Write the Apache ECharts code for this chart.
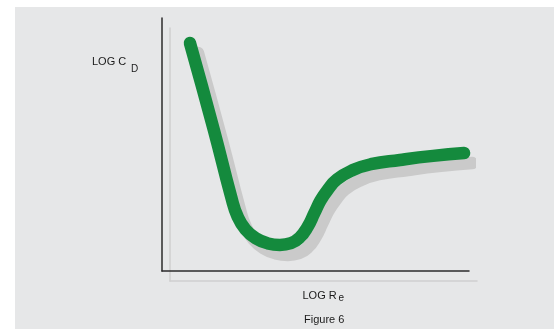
<!DOCTYPE html>
<html>
<head>
<meta charset="utf-8">
<script src="https://cdn.jsdelivr.net/npm/echarts@6/dist/echarts.min.js"></script>
<style>
html,body{margin:0;padding:0;background:#fff;}
#c{width:560px;height:329px;}
</style>
</head>
<body>
<div id="c"></div>
<script>
// Schematic drag curve (arbitrary 0-100 units on both log axes)
var logRe = [9.1, 16.9, 22.6, 24.6, 27.2, 30.6, 34.5, 38.4, 42.0, 44.9, 47.4, 49.6, 51.6, 53.8, 57.0, 62.2, 68.0, 77.5, 88.3, 98.4];
var logCd = [90.1, 55.7, 29.0, 21.6, 16.4, 12.9, 10.9, 10.3, 11.0, 13.3, 17.4, 22.8, 27.8, 31.8, 36.2, 39.9, 42.2, 43.9, 45.5, 46.6];
var xTitle = 'LOG R';
var xSub = 'e';
var yTitle = 'LOG C';
var ySub = 'D';
var caption = 'Figure 6';

var pts = logRe.map(function (x, i) { return [x, logCd[i]]; });
var chart = echarts.init(document.getElementById('c'), null, {renderer: 'canvas'});
var font = '"Liberation Sans", Arial, sans-serif';
var axisLine = {
  show: true, onZero: false,
  lineStyle: {color: '#2b2b2b', width: 1.5, shadowColor: '#cfcfcf', shadowBlur: 0, shadowOffsetX: 8, shadowOffsetY: 10}
};
chart.setOption({
  animation: false,
  backgroundColor: '#ffffff',
  graphic: [
    {type: 'rect', z: -10, shape: {x: 15, y: 7, width: 539, height: 322}, style: {fill: '#e6e7e8'}},
    {type: 'text', x: 92, y: 62, style: {text: yTitle, font: '11px ' + font, fill: '#1a1a1a', verticalAlign: 'middle'}},
    {type: 'text', x: 131, y: 69, style: {text: ySub, font: '10px ' + font, fill: '#1a1a1a', verticalAlign: 'middle'}},
    {type: 'text', x: 302.5, y: 296, style: {text: xTitle, font: '11px ' + font, fill: '#1a1a1a', verticalAlign: 'middle'}},
    {type: 'text', x: 338.5, y: 298.5, style: {text: xSub, font: '10px ' + font, fill: '#1a1a1a', verticalAlign: 'middle'}},
    {type: 'text', x: 304, y: 320, style: {text: caption, font: '11px ' + font, fill: '#1a1a1a', verticalAlign: 'middle'}}
  ],
  grid: {left: 162, top: 18, width: 307, height: 253, containLabel: false},
  xAxis: {type: 'value', min: 0, max: 100, axisLine: axisLine, axisTick: {show: false}, axisLabel: {show: false}, splitLine: {show: false}},
  yAxis: {type: 'value', min: 0, max: 100, axisLine: axisLine, axisTick: {show: false}, axisLabel: {show: false}, splitLine: {show: false}},
  series: [{
    type: 'line',
    data: pts,
    smooth: 0.5,
    showSymbol: false,
    clip: false,
    lineStyle: {color: '#148a3d', width: 12.5, cap: 'round', join: 'round', shadowColor: '#cacaca', shadowBlur: 0, shadowOffsetX: 8, shadowOffsetY: 10}
  }]
});
</script>
</body>
</html>
